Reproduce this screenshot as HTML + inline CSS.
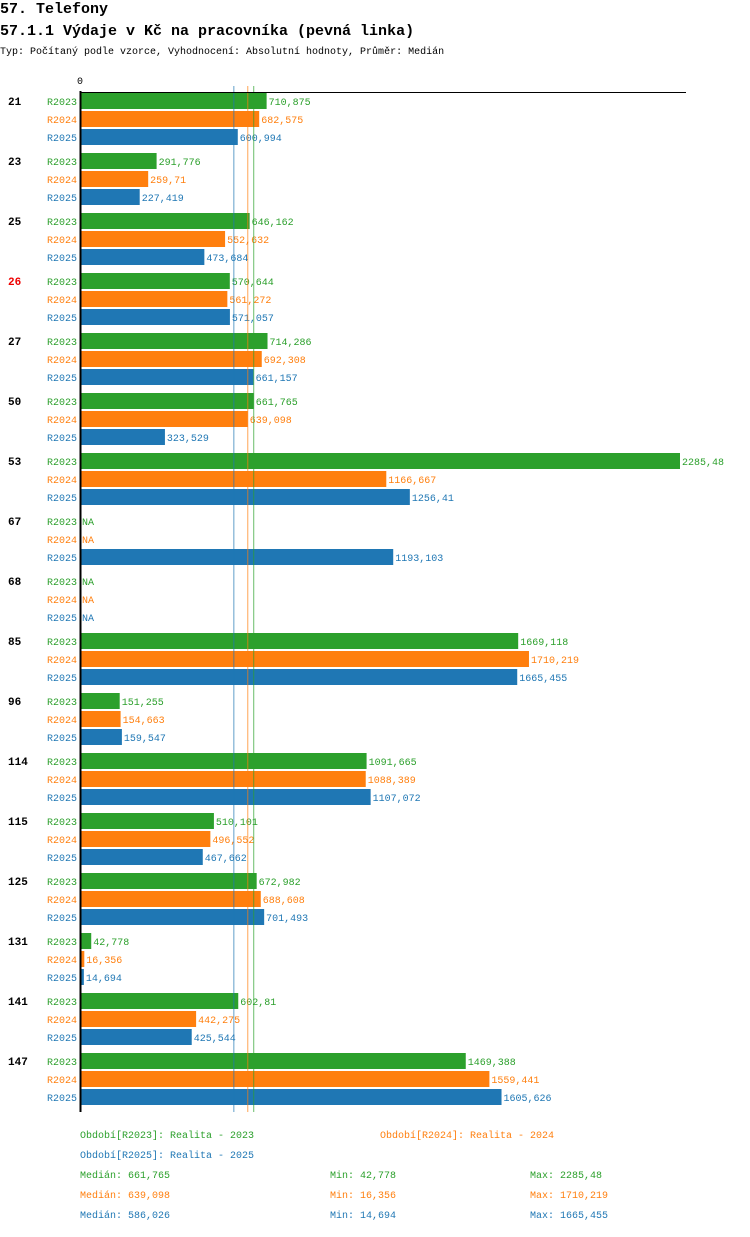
<!DOCTYPE html>
<html><head><meta charset="utf-8"><style>
body{margin:0;background:#fff;width:750px;height:1232px;overflow:hidden;font-family:"Liberation Mono","DejaVu Sans Mono",monospace}
svg text{font-family:"Liberation Mono","DejaVu Sans Mono",monospace}
</style></head><body>
<svg id="chart" width="750" height="1232" xmlns="http://www.w3.org/2000/svg">
<text x="0" y="13" font-size="15" font-weight="bold">57. Telefony</text>
<text x="0" y="35" font-size="15" font-weight="bold">57.1.1 Výdaje v Kč na pracovníka (pevná linka)</text>
<text x="0" y="54" font-size="10">Typ: Počítaný podle vzorce, Vyhodnocení: Absolutní hodnoty, Průměr: Medián</text>
<text x="80" y="84" font-size="10" text-anchor="middle">0</text>
<g id="bars"></g>
<line x1="80" y1="92.5" x2="686" y2="92.5" stroke="#000" stroke-width="1"/>
<line x1="80.5" y1="91" x2="80.5" y2="1112" stroke="#000" stroke-width="2"/>
<g font-size="10">
<text x="80" y="1138" fill="#2ca02c">Období[R2023]: Realita - 2023</text>
<text x="380" y="1138" fill="#ff7f0e">Období[R2024]: Realita - 2024</text>
<text x="80" y="1158" fill="#1f77b4">Období[R2025]: Realita - 2025</text>
<text x="80" y="1178" fill="#2ca02c">Medián: 661,765</text>
<text x="330" y="1178" fill="#2ca02c">Min: 42,778</text>
<text x="530" y="1178" fill="#2ca02c">Max: 2285,48</text>
<text x="80" y="1198" fill="#ff7f0e">Medián: 639,098</text>
<text x="330" y="1198" fill="#ff7f0e">Min: 16,356</text>
<text x="530" y="1198" fill="#ff7f0e">Max: 1710,219</text>
<text x="80" y="1218" fill="#1f77b4">Medián: 586,026</text>
<text x="330" y="1218" fill="#1f77b4">Min: 14,694</text>
<text x="530" y="1218" fill="#1f77b4">Max: 1665,455</text>
</g>
</svg>
<script>
const categories=["21","23","25","26","27","50","53","67","68","85","96","114","115","125","131","141","147"];
const series=["R2023","R2024","R2025"];
const r2023=[710.875,291.776,646.162,570.644,714.286,661.765,2285.48,null,null,1669.118,151.255,1091.665,510.101,672.982,42.778,602.81,1469.388];
const r2024=[682.575,259.71,552.632,561.272,692.308,639.098,1166.667,null,null,1710.219,154.663,1088.389,496.552,688.608,16.356,442.275,1559.441];
const r2025=[600.994,227.419,473.684,571.057,661.157,323.529,1256.41,1193.103,null,1665.455,159.547,1107.072,467.662,701.493,14.694,425.544,1605.626];
const medians=[661.765,639.098,586.026];
const highlighted=["26"];
const colors=["#2ca02c","#ff7f0e","#1f77b4"];
const vals=[r2023,r2024,r2025];
const NS="http://www.w3.org/2000/svg";
const x0=80, xMax=2285.48, xEnd=680;
function xs(v){return x0+v/xMax*(xEnd-x0);}
function fmt(v){return String(v).replace('.',',');}
const g=document.getElementById('bars');
function mk(t,a){const e=document.createElementNS(NS,t);for(const k in a)e.setAttribute(k,a[k]);return e;}
categories.forEach((c,i)=>{
  const gy=93+i*60;
  const lab=mk('text',{x:8,y:gy+12,'font-size':11,'font-weight':'bold',fill:highlighted.includes(c)?'#e00':'#000'});
  
  
  lab.textContent=c;g.appendChild(lab);
  series.forEach((s,j)=>{
    const y=gy+j*18;const v=vals[j][i];
    const sl=mk('text',{x:77,y:y+12,'font-size':10,'text-anchor':'end',fill:colors[j]});
    
    
    sl.textContent=s;g.appendChild(sl);
    let endX=x0+2;
    if(v!==null){
      const r=mk('rect',{x:x0,y:y,width:Math.max(1,xs(v)-x0),height:16,fill:colors[j]});
      
      
      g.appendChild(r);endX=xs(v)+2;
    }
    const vl=mk('text',{x:endX,y:y+12,'font-size':10,fill:colors[j]});
    
    
    vl.textContent=v===null?'NA':fmt(v);g.appendChild(vl);
  });
});
medians.forEach((m,j)=>{
  const l=mk('line',{x1:xs(m),x2:xs(m),y1:86,y2:1112,stroke:colors[j],'stroke-width':1,opacity:0.7});
  
  
  g.appendChild(l);
});
</script>
</body></html>
